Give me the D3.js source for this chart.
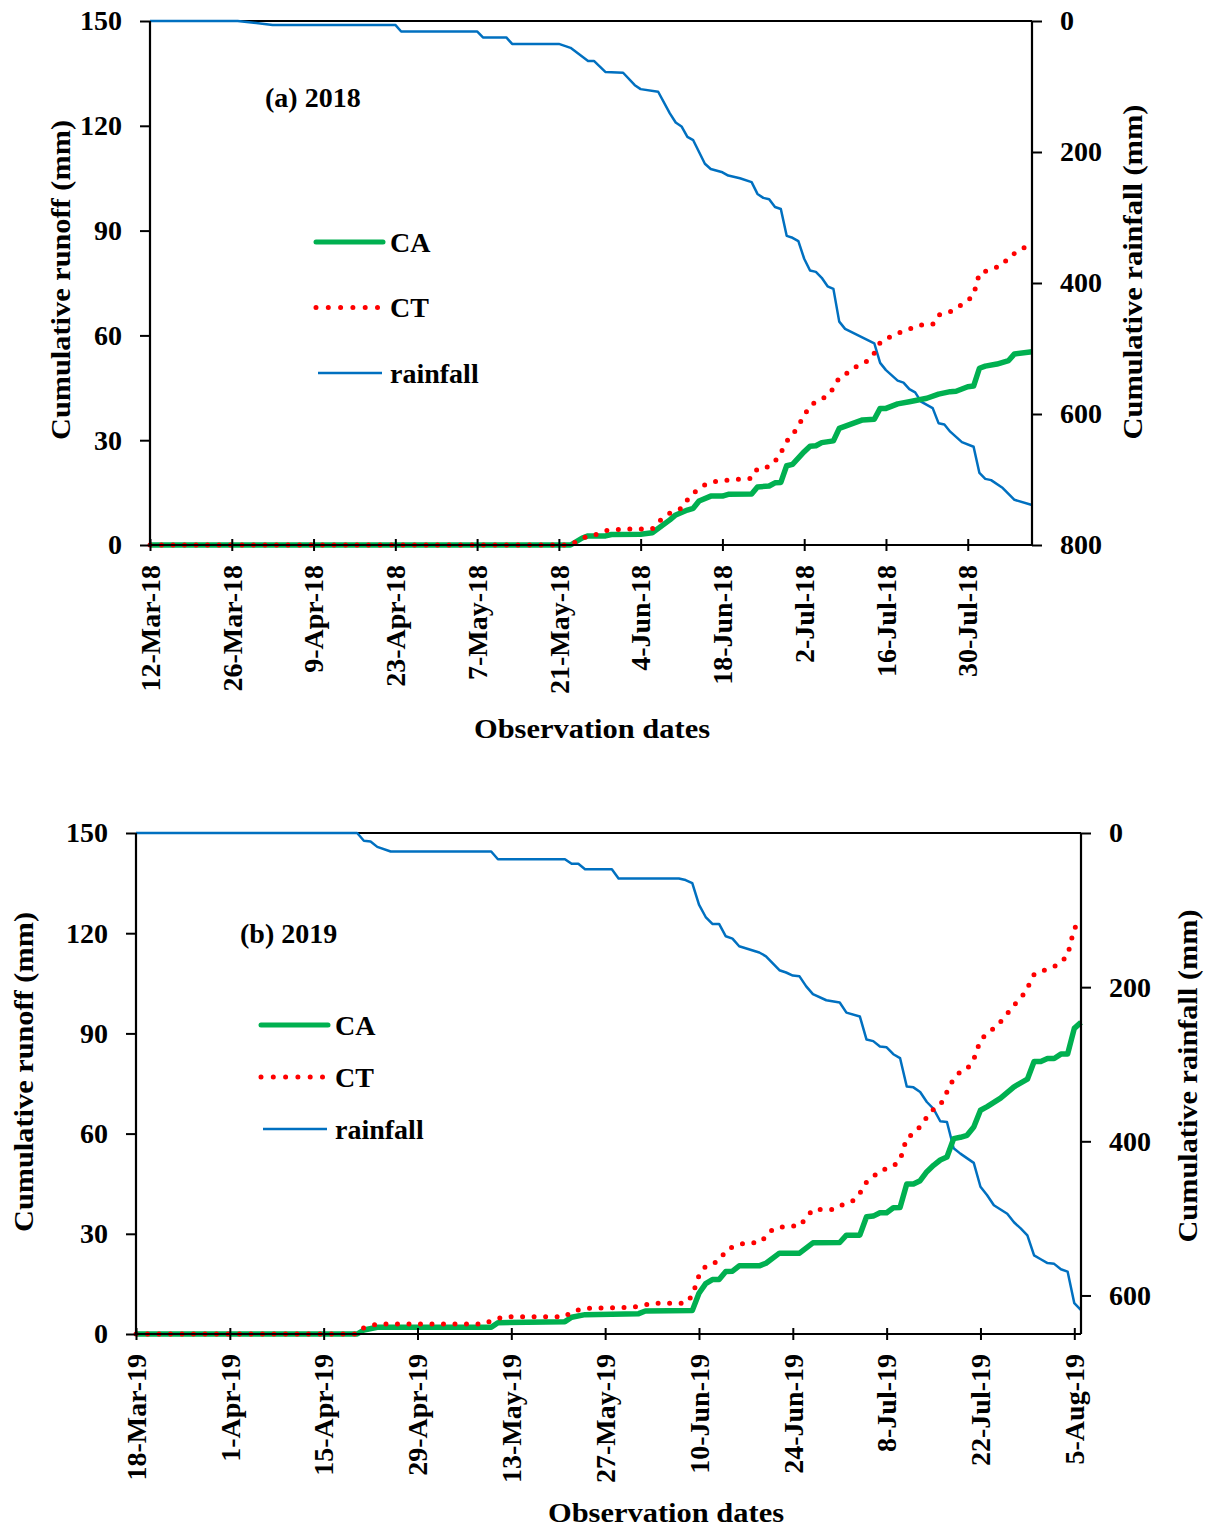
<!DOCTYPE html>
<html>
<head>
<meta charset="utf-8">
<script src="https://cdn.jsdelivr.net/npm/d3@7"></script>
<style>
  body { margin: 0; background: #fff; }
  svg { display: block; }
  text { font-family: "Liberation Serif", "Times New Roman", serif; font-weight: bold; fill: #000; }
</style>
</head>
<body>
<svg id="chart" width="1210" height="1528"></svg>
<script>
// ---- 2018 season: cumulative runoff (mm) and cumulative rainfall (mm) ----
const ca2018 = [
  ["2018-03-12",0],["2018-05-23",0],["2018-05-25",2],["2018-05-26",2.6],["2018-05-29",2.6],["2018-05-30",3],
  ["2018-06-04",3.1],["2018-06-06",3.5],["2018-06-09",7.2],["2018-06-10",8.6],["2018-06-12",10],["2018-06-13",10.5],
  ["2018-06-14",12.6],["2018-06-16",14],["2018-06-18",14],["2018-06-19",14.5],["2018-06-23",14.6],["2018-06-24",16.6],
  ["2018-06-26",16.9],["2018-06-27",17.8],["2018-06-28",17.9],["2018-06-29",22.7],["2018-06-30",23.1],["2018-07-02",26.7],
  ["2018-07-03",28.3],["2018-07-04",28.4],["2018-07-05",29.3],["2018-07-07",29.8],["2018-07-08",33.4],["2018-07-10",34.6],
  ["2018-07-12",35.8],["2018-07-14",36],["2018-07-15",39.1],["2018-07-16",39.1],["2018-07-18",40.4],["2018-07-20",41],
  ["2018-07-23",42],["2018-07-25",43.2],["2018-07-27",43.9],["2018-07-28",44],["2018-07-30",45.3],["2018-07-31",45.5],
  ["2018-08-01",50.6],["2018-08-02",51.2],["2018-08-04",51.8],["2018-08-06",52.8],["2018-08-07",54.7],["2018-08-10",55.3]
];
const ct2018 = [
  ["2018-03-12",0],["2018-05-23",0],["2018-05-25",2],["2018-05-27",2.8],["2018-05-29",4.1],["2018-05-31",4.4],
  ["2018-06-02",4.6],["2018-06-06",4.6],["2018-06-07",6.6],["2018-06-09",9.1],["2018-06-11",10.5],["2018-06-12",12.9],
  ["2018-06-13",14.8],["2018-06-15",17.2],["2018-06-17",18.3],["2018-06-19",18.6],["2018-06-23",19.1],["2018-06-24",21.9],
  ["2018-06-26",22.4],["2018-06-27",23.9],["2018-06-28",26.4],["2018-06-29",29.7],["2018-06-30",31.5],["2018-07-01",34.1],
  ["2018-07-02",37.1],["2018-07-03",39.9],["2018-07-04",41],["2018-07-06",42.7],["2018-07-07",44.9],["2018-07-08",47.9],
  ["2018-07-10",49.8],["2018-07-11",51.2],["2018-07-13",52.8],["2018-07-14",54.9],["2018-07-15",57.9],["2018-07-16",59],
  ["2018-07-18",60.6],["2018-07-20",61.8],["2018-07-22",63],["2018-07-24",63.2],["2018-07-25",65.8],["2018-07-27",66.8],
  ["2018-07-28",67.8],["2018-07-30",69.9],["2018-07-31",71.6],["2018-08-01",77.8],["2018-08-03",78.9],["2018-08-05",80.2],
  ["2018-08-06",82.4],["2018-08-08",84.5],["2018-08-10",86.3]
];
const rain2018 = [
  ["2018-03-12",0],["2018-03-27",0],["2018-04-02",6],["2018-04-23",6],["2018-04-24",16],["2018-05-07",16],
  ["2018-05-08",25],["2018-05-12",25],["2018-05-13",35],["2018-05-21",35],["2018-05-23",41],["2018-05-26",61],
  ["2018-05-27",61],["2018-05-29",78],["2018-06-01",79],["2018-06-03",98],["2018-06-04",104],["2018-06-07",108],
  ["2018-06-09",141],["2018-06-10",155],["2018-06-11",161],["2018-06-12",177],["2018-06-13",182],["2018-06-14",200],
  ["2018-06-15",218],["2018-06-16",226],["2018-06-18",231],["2018-06-19",236],["2018-06-21",240],["2018-06-23",246],
  ["2018-06-24",264],["2018-06-25",270],["2018-06-26",272],["2018-06-27",284],["2018-06-28",287],["2018-06-29",328],
  ["2018-06-30",331],["2018-07-01",336],["2018-07-02",363],["2018-07-03",381],["2018-07-04",383],["2018-07-05",392],
  ["2018-07-06",405],["2018-07-07",409],["2018-07-08",459],["2018-07-09",470],["2018-07-14",492],["2018-07-15",522],
  ["2018-07-16",533],["2018-07-18",549],["2018-07-19",552],["2018-07-20",562],["2018-07-21",567],["2018-07-22",581],
  ["2018-07-24",591],["2018-07-25",614],["2018-07-26",616],["2018-07-27",627],["2018-07-29",643],["2018-07-31",650],
  ["2018-08-01",690],["2018-08-02",699],["2018-08-03",701],["2018-08-05",713],["2018-08-07",731],["2018-08-10",739]
];
const ticks2018 = ["2018-03-12","2018-03-26","2018-04-09","2018-04-23","2018-05-07","2018-05-21",
  "2018-06-04","2018-06-18","2018-07-02","2018-07-16","2018-07-30"];

// ---- 2019 season ----
const ca2019 = [
  ["2019-03-18",0],["2019-04-20",0],["2019-04-21",1.2],["2019-04-23",2],["2019-05-10",2],["2019-05-11",3.4],
  ["2019-05-21",3.7],["2019-05-22",5],["2019-05-24",5.8],["2019-06-01",6.1],["2019-06-02",6.9],["2019-06-09",7],
  ["2019-06-10",12.2],["2019-06-11",15.1],["2019-06-12",16.3],["2019-06-13",16.3],["2019-06-14",18.7],["2019-06-15",18.8],
  ["2019-06-16",20.4],["2019-06-19",20.4],["2019-06-20",21.2],["2019-06-22",24.2],["2019-06-25",24.2],["2019-06-27",27.3],
  ["2019-07-01",27.4],["2019-07-02",29.6],["2019-07-04",29.6],["2019-07-05",35.1],["2019-07-06",35.3],["2019-07-07",36.3],
  ["2019-07-08",36.3],["2019-07-09",37.8],["2019-07-10",37.9],["2019-07-11",44.9],["2019-07-12",44.9],["2019-07-13",45.9],
  ["2019-07-14",48.6],["2019-07-15",50.5],["2019-07-16",52.1],["2019-07-17",53],["2019-07-18",58.5],["2019-07-19",58.9],
  ["2019-07-20",59.5],["2019-07-21",62],["2019-07-22",67],["2019-07-23",68.1],["2019-07-25",70.6],["2019-07-27",74],
  ["2019-07-29",76.3],["2019-07-30",81.6],["2019-07-31",81.6],["2019-08-01",82.5],["2019-08-02",82.5],["2019-08-03",83.8],
  ["2019-08-04",83.8],["2019-08-05",91.5],["2019-08-06",93.3]
];
const ct2019 = [
  ["2019-03-18",0],["2019-04-20",0],["2019-04-21",1.9],["2019-04-23",3],["2019-05-09",3],["2019-05-10",4],
  ["2019-05-12",5.2],["2019-05-21",5.2],["2019-05-22",6.7],["2019-05-24",7.7],["2019-05-31",8],["2019-06-02",8.7],
  ["2019-06-03",9.2],["2019-06-08",9.2],["2019-06-09",11.5],["2019-06-10",17.5],["2019-06-11",20.3],["2019-06-13",21.9],
  ["2019-06-14",24.9],["2019-06-15",26.1],["2019-06-17",27.3],["2019-06-19",27.3],["2019-06-20",29.1],["2019-06-21",31.4],
  ["2019-06-23",32.3],["2019-06-25",32.3],["2019-06-26",34.8],["2019-06-27",37.3],["2019-06-30",37.3],["2019-07-02",39.3],
  ["2019-07-03",39.9],["2019-07-04",42.1],["2019-07-05",45.5],["2019-07-06",47.1],["2019-07-07",48.8],["2019-07-09",50.3],
  ["2019-07-10",52],["2019-07-11",58.8],["2019-07-12",59.9],["2019-07-13",62.1],["2019-07-14",64.9],["2019-07-15",67.3],
  ["2019-07-16",68.5],["2019-07-17",72.5],["2019-07-18",76.5],["2019-07-19",78.5],["2019-07-20",79.3],["2019-07-21",82.2],
  ["2019-07-22",88],["2019-07-23",90],["2019-07-24",91.5],["2019-07-25",93.5],["2019-07-26",95.9],["2019-07-27",98.5],
  ["2019-07-28",100.4],["2019-07-29",103.6],["2019-07-30",107.6],["2019-07-31",108.6],["2019-08-01",109.2],["2019-08-02",110],
  ["2019-08-03",111.2],["2019-08-04",113.4],["2019-08-05",121.5],["2019-08-06",123.4]
];
const rain2019 = [
  ["2019-03-18",0],["2019-04-20",0],["2019-04-21",10],["2019-04-22",11],["2019-04-23",18],["2019-04-25",24],
  ["2019-05-10",24],["2019-05-11",34],["2019-05-21",34],["2019-05-22",40],["2019-05-23",40],["2019-05-24",47],
  ["2019-05-28",47],["2019-05-29",59],["2019-06-07",59],["2019-06-08",61],["2019-06-09",65],["2019-06-10",93],
  ["2019-06-11",109],["2019-06-12",118],["2019-06-13",118],["2019-06-14",134],["2019-06-15",137],["2019-06-16",147],
  ["2019-06-19",155],["2019-06-20",160],["2019-06-22",178],["2019-06-23",181],["2019-06-24",185],["2019-06-25",186],
  ["2019-06-26",199],["2019-06-27",209],["2019-06-29",217],["2019-07-01",220],["2019-07-02",233],["2019-07-04",238],
  ["2019-07-05",268],["2019-07-06",270],["2019-07-07",277],["2019-07-08",278],["2019-07-09",287],["2019-07-10",292],
  ["2019-07-11",329],["2019-07-12",330],["2019-07-13",336],["2019-07-14",349],["2019-07-15",358],["2019-07-16",374],
  ["2019-07-17",375],["2019-07-18",409],["2019-07-19",416],["2019-07-21",428],["2019-07-22",459],["2019-07-23",470],
  ["2019-07-24",483],["2019-07-26",494],["2019-07-27",505],["2019-07-28",513],["2019-07-29",522],["2019-07-30",548],
  ["2019-07-31",553],["2019-08-01",558],["2019-08-02",559],["2019-08-03",566],["2019-08-04",569],["2019-08-05",610],
  ["2019-08-06",619]
];
const ticks2019 = ["2019-03-18","2019-04-01","2019-04-15","2019-04-29","2019-05-13","2019-05-27",
  "2019-06-10","2019-06-24","2019-07-08","2019-07-22","2019-08-05"];

const runoffTicks = [0, 30, 60, 90, 120, 150];
const seriesNames = ["CA", "CT", "rainfall"];

const parse = d3.timeParse("%Y-%m-%d");
const fmt = d3.timeFormat("%-d-%b-%y");
const colors = { CA: "#00B050", CT: "#FF0000", rainfall: "#0070C0" };

const svg = d3.select("#chart");

const panels = [
  {
    title: "(a) 2018", ca: ca2018, ct: ct2018, rain: rain2018, ticks: ticks2018,
    start: "2018-03-12", end: "2018-08-10", rainMax: 800, rainTicks: [0, 200, 400, 600, 800],
    box: { l: 150, r: 1032, t: 21, b: 545 },
    titlePos: [265, 107], legend: { x: 316, y: 242, gap: 65.5 },
    yTitleL: [70, 280, 320], yTitleR: [1142, 272, 335], xTitle: [592, 738, 236]
  },
  {
    title: "(b) 2019", ca: ca2019, ct: ct2019, rain: rain2019, ticks: ticks2019,
    start: "2019-03-18", end: "2019-08-06", rainMax: 650, rainTicks: [0, 200, 400, 600],
    box: { l: 136, r: 1081, t: 833, b: 1334 },
    titlePos: [240, 943], legend: { x: 261, y: 1025, gap: 52 },
    yTitleL: [33, 1072, 320], yTitleR: [1197, 1076, 333], xTitle: [666, 1522, 236]
  }
];

panels.forEach(p => {
  const { l, r, t, b } = p.box;
  const x = d3.scaleTime().domain([parse(p.start), parse(p.end)]).range([l, r]);
  const y = d3.scaleLinear().domain([0, 150]).range([b, t]);
  const yR = d3.scaleLinear().domain([0, p.rainMax]).range([t, b]);
  const g = svg.append("g");

  // plot frame (top edge)
  g.append("line").attr("x1", l).attr("x2", r).attr("y1", t).attr("y2", t)
    .attr("stroke", "#000").attr("stroke-width", 2);

  // series lines
  const lineL = d3.line().x(d => x(parse(d[0]))).y(d => y(d[1]));
  const lineR = d3.line().x(d => x(parse(d[0]))).y(d => yR(d[1]));
  g.append("path").datum(p.rain).attr("d", lineR).attr("fill", "none")
    .attr("stroke", colors.rainfall).attr("stroke-width", 2.5).attr("stroke-linejoin", "round");
  g.append("path").datum(p.ca).attr("d", lineL).attr("fill", "none")
    .attr("stroke", colors.CA).attr("stroke-width", 5.5).attr("stroke-linejoin", "round");
  g.append("path").datum(p.ct).attr("d", lineL).attr("fill", "none")
    .attr("stroke", colors.CT).attr("stroke-width", 5).attr("stroke-linecap", "round")
    .attr("stroke-dasharray", "0 11.5");

  // left axis
  const axL = g.append("g").attr("transform", `translate(${l},0)`)
    .call(d3.axisLeft(y).tickValues(runoffTicks).tickSize(10).tickPadding(18));
  // right axis
  const axR = g.append("g").attr("transform", `translate(${r},0)`)
    .call(d3.axisRight(yR).tickValues(p.rainTicks).tickSize(10).tickPadding(18));
  // bottom axis with ticks crossing the line
  const axB = g.append("g").attr("transform", `translate(0,${b})`)
    .call(d3.axisBottom(x).tickValues(p.ticks.map(parse)).tickFormat(fmt).tickSize(0).tickPadding(0));
  axB.selectAll(".tick line").attr("y1", -6).attr("y2", 6);
  axB.selectAll(".tick text")
    .attr("transform", "rotate(-90)").attr("text-anchor", "end")
    .attr("x", -20).attr("y", 0).attr("dy", "0.33em");

  [axL, axR, axB].forEach(a => {
    a.select(".domain").attr("stroke", "#000").attr("stroke-width", 2.2);
    a.selectAll(".tick line").attr("stroke", "#000").attr("stroke-width", 2);
    a.selectAll(".tick text").style("font-family", '"Liberation Serif", serif')
      .style("font-weight", "bold").style("font-size", "28px").attr("fill", "#000");
  });
  axL.select(".domain").attr("d", `M0,${b}V${t}`);
  axR.select(".domain").attr("d", `M0,${t}V${b}`);
  axB.select(".domain").attr("d", `M${l},0H${r}`);

  // axis titles
  g.append("text").attr("transform", `translate(${p.yTitleL[0]},${p.yTitleL[1]}) rotate(-90)`)
    .attr("text-anchor", "middle").style("font-size", "28px")
    .attr("textLength", p.yTitleL[2]).attr("lengthAdjust", "spacingAndGlyphs")
    .text("Cumulative runoff (mm)");
  g.append("text").attr("transform", `translate(${p.yTitleR[0]},${p.yTitleR[1]}) rotate(-90)`)
    .attr("text-anchor", "middle").style("font-size", "28px")
    .attr("textLength", p.yTitleR[2]).attr("lengthAdjust", "spacingAndGlyphs")
    .text("Cumulative rainfall (mm)");
  g.append("text").attr("x", p.xTitle[0]).attr("y", p.xTitle[1])
    .attr("text-anchor", "middle").style("font-size", "28px")
    .attr("textLength", p.xTitle[2]).attr("lengthAdjust", "spacingAndGlyphs")
    .text("Observation dates");

  // panel label
  g.append("text").attr("x", p.titlePos[0]).attr("y", p.titlePos[1])
    .style("font-size", "28px").text(p.title);

  // legend
  const lg = g.append("g").attr("transform", `translate(${p.legend.x},${p.legend.y})`);
  seriesNames.forEach((name, i) => {
    const yy = i * p.legend.gap;
    const ln = lg.append("line").attr("x1", 0).attr("x2", 67).attr("y1", yy).attr("y2", yy)
      .attr("stroke", colors[name]);
    if (name === "CA") ln.attr("stroke-width", 5).attr("stroke-linecap", "round");
    else if (name === "CT") ln.attr("x2", 62).attr("stroke-width", 5).attr("stroke-linecap", "round")
      .attr("stroke-dasharray", "0 12.3");
    else ln.attr("x1", 2).attr("x2", 66).attr("stroke-width", 2.5);
    lg.append("text").attr("x", 74).attr("y", yy).attr("dy", "0.34em")
      .style("font-size", "28px").text(name);
  });
});
</script>
</body>
</html>
